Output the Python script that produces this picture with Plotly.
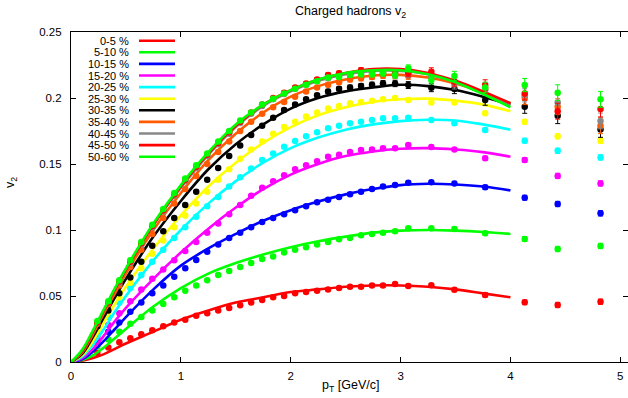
import plotly.graph_objects as go

# ---------------- data ----------------
labels = ["0-5 %", "5-10 %", "10-15 %", "15-20 %", "20-25 %", "25-30 %",
          "30-35 %", "35-40 %", "40-45 %", "45-50 %", "50-60 %"]
colors = ["#ff0000", "#00ff00", "#0000ff", "#ff00ff", "#00ffff", "#ffff00",
          "#000000", "#ff5a00", "#888888", "#ff0000", "#00ff00"]

# model curves (pT in GeV/c)
pt_curve = [0, 0.1, 0.2, 0.3, 0.4, 0.5, 0.75, 1.0, 1.25, 1.5, 1.75, 2.0,
            2.25, 2.5, 2.75, 3.0, 3.25, 3.5, 3.75, 4.0]
curve_0_5 = [0, 0.001, 0.003, 0.006, 0.010, 0.014, 0.023, 0.032, 0.039, 0.045, 0.049, 0.053,
             0.055, 0.057, 0.058, 0.058, 0.057, 0.055, 0.052, 0.049]
curve_5_10 = [0, 0.0015, 0.005, 0.011, 0.018, 0.025, 0.042, 0.056, 0.067, 0.075, 0.0815, 0.087,
              0.0915, 0.095, 0.098, 0.0995, 0.100, 0.0995, 0.0985, 0.097]
curve_10_15 = [0, 0.002, 0.008, 0.016, 0.025, 0.034, 0.055, 0.073, 0.086, 0.097, 0.107, 0.115,
               0.1215, 0.127, 0.131, 0.134, 0.135, 0.1345, 0.133, 0.130]
curve_15_20 = [0, 0.003, 0.010, 0.020, 0.031, 0.041, 0.063, 0.083, 0.101, 0.117, 0.131, 0.142,
               0.150, 0.156, 0.1595, 0.1615, 0.162, 0.161, 0.159, 0.1555]
curve_20_25 = [0, 0.004, 0.013, 0.025, 0.038, 0.050, 0.077, 0.100, 0.120, 0.137, 0.151, 0.162,
               0.170, 0.176, 0.180, 0.1825, 0.1835, 0.183, 0.180, 0.176]
curve_25_30 = [0, 0.005, 0.016, 0.030, 0.044, 0.057, 0.086, 0.111, 0.133, 0.151, 0.166, 0.178,
               0.187, 0.193, 0.197, 0.199, 0.1995, 0.198, 0.195, 0.190]
curve_30_35 = [0, 0.006, 0.019, 0.034, 0.049, 0.063, 0.095, 0.122, 0.146, 0.165, 0.180, 0.192,
               0.200, 0.205, 0.208, 0.210, 0.209, 0.206, 0.201, 0.195]
curve_35_40 = [0, 0.007, 0.021, 0.037, 0.052, 0.067, 0.100, 0.128, 0.153, 0.173, 0.189, 0.201,
               0.209, 0.214, 0.217, 0.2175, 0.2155, 0.211, 0.204, 0.196]
curve_40_45 = [0, 0.008, 0.023, 0.039, 0.055, 0.070, 0.104, 0.132, 0.157, 0.178, 0.194, 0.205,
               0.213, 0.218, 0.2205, 0.2205, 0.218, 0.212, 0.204, 0.195]
curve_45_50 = [0, 0.008, 0.023, 0.039, 0.055, 0.070, 0.104, 0.133, 0.158, 0.179, 0.195, 0.206,
               0.214, 0.219, 0.222, 0.222, 0.219, 0.213, 0.205, 0.196]
curve_50_60 = [0, 0.009, 0.024, 0.040, 0.056, 0.071, 0.105, 0.134, 0.159, 0.180, 0.195, 0.206,
               0.214, 0.219, 0.221, 0.221, 0.218, 0.212, 0.203, 0.193]

# measured points
pt_data = [0.24, 0.34, 0.44, 0.54, 0.64, 0.74, 0.84, 0.94, 1.04, 1.14, 1.24, 1.34,
           1.44, 1.54, 1.64, 1.74, 1.84, 1.94, 2.04, 2.14, 2.24, 2.34, 2.44, 2.54,
           2.64, 2.74, 2.84, 2.95, 3.07, 3.28, 3.49, 3.77, 4.13, 4.43, 4.82]
v2_0_5 = [0.007, 0.011, 0.015, 0.018, 0.021, 0.024, 0.027, 0.030, 0.032, 0.035, 0.037, 0.039,
          0.041, 0.043, 0.045, 0.047, 0.049, 0.050, 0.052, 0.053, 0.054, 0.055, 0.056, 0.057,
          0.057, 0.058, 0.058, 0.059, 0.0576, 0.0581, 0.0548, 0.0508, 0.0452, 0.0432, 0.0457]
v2_5_10 = [0.012, 0.017, 0.023, 0.029, 0.034, 0.039, 0.044, 0.049, 0.054, 0.058, 0.062, 0.066,
           0.069, 0.072, 0.075, 0.078, 0.080, 0.083, 0.085, 0.087, 0.089, 0.091, 0.093, 0.094,
           0.096, 0.097, 0.098, 0.099, 0.1013, 0.1013, 0.1008, 0.0975, 0.0932, 0.0856, 0.0879]
v2_10_15 = [0.0155, 0.023, 0.030, 0.038, 0.045, 0.052, 0.058, 0.0646, 0.071, 0.0773, 0.0836, 0.089,
            0.094, 0.098, 0.102, 0.106, 0.109, 0.112, 0.115, 0.118, 0.121, 0.123, 0.125, 0.127,
            0.129, 0.131, 0.133, 0.134, 0.1358, 0.1361, 0.1353, 0.1323, 0.1245, 0.1197, 0.1126]
v2_15_20 = [0.019, 0.028, 0.037, 0.046, 0.055, 0.063, 0.070, 0.077, 0.084, 0.091, 0.098, 0.105,
            0.112, 0.119, 0.126, 0.132, 0.137, 0.1415, 0.146, 0.149, 0.152, 0.1555, 0.157, 0.159,
            0.1606, 0.161, 0.162, 0.162, 0.1644, 0.1629, 0.161, 0.1543, 0.153, 0.141, 0.1353]
v2_20_25 = [0.023, 0.034, 0.045, 0.056, 0.066, 0.076, 0.085, 0.094, 0.102, 0.110, 0.118, 0.125,
            0.133, 0.140, 0.1466, 0.153, 0.158, 0.163, 0.1675, 0.171, 0.174, 0.177, 0.179, 0.1808,
            0.182, 0.1833, 0.1846, 0.1846, 0.185, 0.1833, 0.1808, 0.1758, 0.1677, 0.160, 0.155]
v2_25_30 = [0.026, 0.038, 0.049, 0.060, 0.071, 0.082, 0.092, 0.102, 0.111, 0.120, 0.129, 0.138,
            0.146, 0.154, 0.161, 0.167, 0.173, 0.178, 0.182, 0.186, 0.189, 0.192, 0.194, 0.196,
            0.197, 0.198, 0.199, 0.200, 0.1985, 0.1965, 0.1965, 0.1884, 0.182, 0.171, 0.1677]
v2_30_35 = [0.027, 0.039, 0.052, 0.064, 0.076, 0.088, 0.099, 0.109, 0.119, 0.129, 0.138, 0.147,
            0.156, 0.164, 0.172, 0.179, 0.185, 0.191, 0.195, 0.199, 0.202, 0.205, 0.207, 0.208,
            0.209, 0.210, 0.211, 0.211, 0.2098, 0.2078, 0.2068, 0.1985, 0.1934, 0.1866, 0.1762]
v2_35_40 = [0.029, 0.044, 0.058, 0.072, 0.085, 0.097, 0.109, 0.120, 0.131, 0.141, 0.150, 0.159,
            0.167, 0.175, 0.182, 0.188, 0.193, 0.197, 0.201, 0.205, 0.208, 0.210, 0.212, 0.214,
            0.215, 0.216, 0.217, 0.217, 0.2167, 0.217, 0.212, 0.207, 0.200, 0.1934, 0.179]
v2_40_45 = [0.030, 0.045, 0.060, 0.075, 0.089, 0.102, 0.114, 0.126, 0.137, 0.147, 0.156, 0.165,
            0.173, 0.181, 0.188, 0.194, 0.199, 0.203, 0.207, 0.210, 0.213, 0.215, 0.217, 0.218,
            0.219, 0.219, 0.219, 0.218, 0.218, 0.216, 0.2103, 0.206, 0.202, 0.1966, 0.1826]
v2_45_50 = [0.030, 0.045, 0.061, 0.076, 0.090, 0.103, 0.115, 0.127, 0.138, 0.148, 0.157, 0.166,
            0.174, 0.182, 0.189, 0.195, 0.200, 0.204, 0.208, 0.211, 0.214, 0.2174, 0.2187, 0.2174,
            0.221, 0.220, 0.219, 0.219, 0.2187, 0.2199, 0.2124, 0.2098, 0.2035, 0.190, 0.1917]
v2_50_60 = [0.031, 0.046, 0.062, 0.077, 0.091, 0.104, 0.116, 0.128, 0.139, 0.149, 0.158, 0.167,
            0.175, 0.183, 0.189, 0.195, 0.1995, 0.2035, 0.207, 0.210, 0.2126, 0.2155, 0.216, 0.2174,
            0.218, 0.218, 0.2187, 0.2174, 0.2225, 0.2136, 0.2167, 0.208, 0.2098, 0.204, 0.199]

# statistical errors (central / peripheral groups)
err_central = [0.0004, 0.0004, 0.0004, 0.0004, 0.0004, 0.0004, 0.0004, 0.0005, 0.0005, 0.0005, 0.0005, 0.0005,
               0.0006, 0.0006, 0.0006, 0.0007, 0.0007, 0.0008, 0.0008, 0.0009, 0.0009, 0.001, 0.001, 0.001,
               0.0011, 0.0011, 0.0012, 0.0012, 0.0013, 0.0014, 0.0015, 0.0016, 0.0018, 0.002, 0.002]
err_peripheral = [0.0005, 0.0005, 0.0005, 0.0005, 0.0005, 0.0006, 0.0006, 0.0006, 0.0007, 0.0007, 0.0008, 0.0008,
                  0.0009, 0.0009, 0.001, 0.001, 0.0011, 0.0012, 0.0013, 0.0014, 0.0015, 0.0016, 0.0017, 0.0018,
                  0.002, 0.002, 0.0022, 0.0024, 0.0026, 0.003, 0.0035, 0.004, 0.005, 0.006, 0.006]

curves = [curve_0_5, curve_5_10, curve_10_15, curve_15_20, curve_20_25, curve_25_30,
          curve_30_35, curve_35_40, curve_40_45, curve_45_50, curve_50_60]
points = [v2_0_5, v2_5_10, v2_10_15, v2_15_20, v2_20_25, v2_25_30,
          v2_30_35, v2_35_40, v2_40_45, v2_45_50, v2_50_60]
errors = [err_central] * 6 + [err_peripheral] * 5

# ---------------- figure ----------------
FONT = "Liberation Sans, Arial, Helvetica, sans-serif"
W, H = 628, 398
ML, MR, MT, MB = 71, 0, 32, 36
PW, PH = W - ML - MR, H - MT - MB

fig = go.Figure()
for name, col, cv, pv, ev in zip(labels, colors, curves, points, errors):
    fig.add_trace(go.Scatter(
        x=pt_curve, y=cv, mode="lines", name=name,
        line=dict(color=col, width=2.6, shape="spline", smoothing=1.0),
        showlegend=False, hoverinfo="skip"))
    fig.add_trace(go.Scatter(
        x=pt_data, y=pv, mode="markers", name=name,
        marker=dict(color=col, size=6.5, line=dict(width=0)),
        error_y=dict(type="data", array=ev, visible=True, color=col, thickness=1, width=2.5),
        showlegend=False))

def px_x(px):
    return (px - ML) / PW

def px_y(py):
    return (H - MB - py) / PH

annotations = []
shapes = []
for i, (name, col) in enumerate(zip(labels, colors)):
    yy = 40.7 + i * 11.6
    annotations.append(dict(
        x=px_x(131), y=px_y(yy), xref="paper", yref="paper",
        text=name, showarrow=False, xanchor="right", yanchor="middle",
        font=dict(family=FONT, size=11, color="#000000")))
    shapes.append(dict(
        type="line", xref="paper", yref="paper",
        x0=px_x(139), x1=px_x(175), y0=px_y(yy), y1=px_y(yy),
        line=dict(color=col, width=2.6)))

annotations.append(dict(
    x=px_x(350), y=px_y(12), xref="paper", yref="paper",
    text="Charged hadrons v<sub>2</sub>", showarrow=False,
    xanchor="center", yanchor="middle",
    font=dict(family=FONT, size=12.5, color="#000000")))
annotations.append(dict(
    x=px_x(350), y=px_y(386), xref="paper", yref="paper",
    text="p<sub>T</sub> [GeV/c]", showarrow=False,
    xanchor="center", yanchor="middle",
    font=dict(family=FONT, size=12.5, color="#000000")))
annotations.append(dict(
    x=px_x(11), y=px_y(183), xref="paper", yref="paper",
    text="v<sub>2</sub>", showarrow=False, textangle=-90,
    xanchor="center", yanchor="middle",
    font=dict(family=FONT, size=12.5, color="#000000")))

axis_common = dict(
    showgrid=False, zeroline=False, showline=True, linecolor="#000000", linewidth=1.2,
    mirror="ticks", ticks="inside", ticklen=5, tickwidth=1, tickcolor="#000000",
    tickfont=dict(family=FONT, size=11.5, color="#000000"))

fig.update_layout(
    width=W, height=H,
    margin=dict(l=ML, r=MR, t=MT, b=MB, pad=0),
    paper_bgcolor="#ffffff", plot_bgcolor="#ffffff",
    showlegend=False,
    xaxis=dict(range=[0, 5.07], tickvals=[0, 1, 2, 3, 4, 5], ticklabelstandoff=3, **axis_common),
    yaxis=dict(range=[0, 0.25], tickvals=[0, 0.05, 0.1, 0.15, 0.2, 0.25],
               ticktext=["0", "0.05", "0.1", "0.15", "0.2", "0.25"], ticklabelstandoff=6,
               **axis_common),
    annotations=annotations, shapes=shapes,
)

fig.write_html("out.html")
